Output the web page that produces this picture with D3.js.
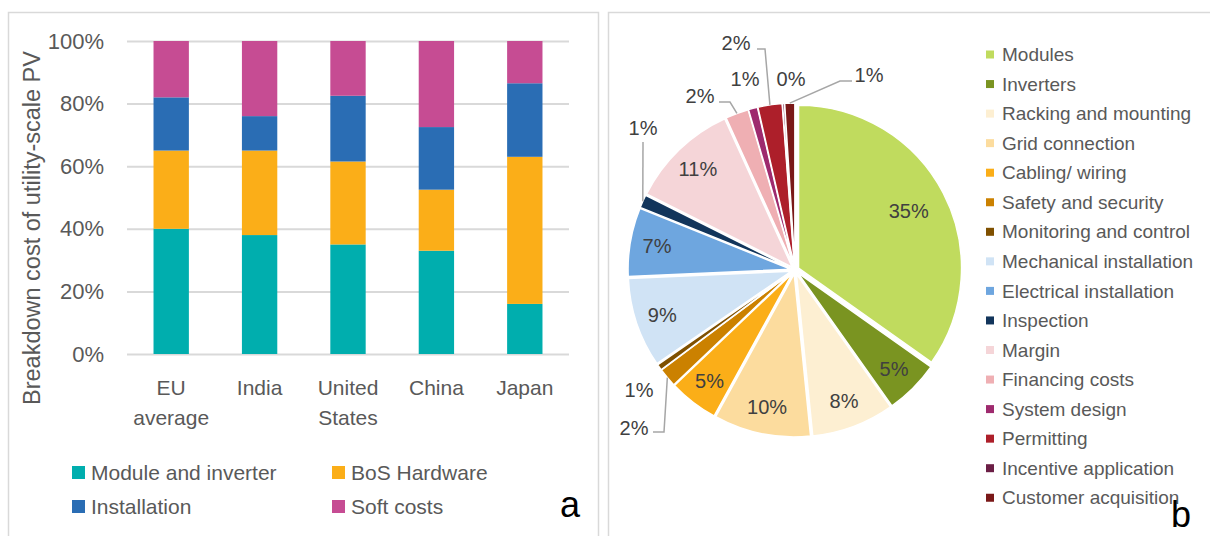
<!DOCTYPE html>
<meta charset="utf-8">
<script src="https://d3js.org/d3.v7.min.js"></script>
<style>
  body { margin: 0; background: #fff; }
  text { font-family: "Liberation Sans", Arial, sans-serif; }
</style>
<div id="my_dataviz"></div>
<script>
  // ---- panel a : stacked bars
  var countries = ["EU average", "India", "United States", "China", "Japan"];
  var moduleInverter = [40, 38, 35, 33, 16];
  var bosHardware = [25, 27, 26.5, 19.5, 47];
  var installation = [17, 11, 21, 20, 23.5];
  var softCosts = [18, 24, 17.5, 27.5, 13.5];
  var barSeries = ["Module and inverter", "BoS Hardware", "Installation", "Soft costs"];
  var barColors = ["#00AEAE", "#FBAE18", "#2A6DB4", "#C64C93"];
  var yTicks = [0, 20, 40, 60, 80, 100];

  // ---- panel b : pie
  var pieCategories = ["Modules", "Inverters", "Racking and mounting", "Grid connection", "Cabling/ wiring",
    "Safety and security", "Monitoring and control", "Mechanical installation", "Electrical installation",
    "Inspection", "Margin", "Financing costs", "System design", "Permitting", "Incentive application",
    "Customer acquisition"];
  var pieValues = [34.8, 5.4, 8.2, 9.6, 4.9, 1.9, 0.6, 8.9, 6.8, 1.3, 10.8, 2.3, 0.9, 2.4, 0.2, 1.0];
  var pieColors = ["#C0DB5E", "#7A9421", "#FDEFD2", "#FCDC9E", "#FBAE18", "#CB8100", "#7F5000", "#D0E3F5",
    "#6EA6DF", "#12355B", "#F5D5D8", "#EFAFB3", "#9E2A6E", "#AD1F2A", "#6B1E45", "#7A1818"];

  var svg = d3.select("#my_dataviz").append("svg").attr("width", 1210).attr("height", 536);

  // panel frames
  svg.append("rect").attr("x", 8.5).attr("y", 12.5).attr("width", 590).attr("height", 560)
    .attr("fill", "none").attr("stroke", "#D9D9D9").attr("stroke-width", 1.5);
  svg.append("rect").attr("x", 608.5).attr("y", 12.5).attr("width", 640).attr("height", 560)
    .attr("fill", "none").attr("stroke", "#D9D9D9").attr("stroke-width", 1.5);

  // ================= bar chart =================
  var plotLeft = 127, plotRight = 569, plotTop = 41, plotBottom = 354;
  var x = d3.scaleBand().domain(countries).range([plotLeft, plotRight]).paddingInner(0.6).paddingOuter(0.3);
  var y = d3.scaleLinear().domain([0, 100]).range([plotBottom, plotTop]);

  var yAxis = svg.append("g").attr("transform", "translate(" + plotLeft + ",0)")
    .call(d3.axisLeft(y).tickValues(yTicks).tickSize(-(plotRight - plotLeft)).tickPadding(23)
      .tickFormat(function(d) { return d + "%"; }));
  yAxis.select(".domain").remove();
  yAxis.selectAll("line").attr("stroke", "#D9D9D9").attr("stroke-width", 2);
  yAxis.selectAll("text").attr("fill", "#595959").style("font-size", "22px");

  // y title
  svg.append("text").attr("transform", "translate(40,228) rotate(-90)")
    .attr("text-anchor", "middle").attr("fill", "#595959").style("font-size", "23.5px")
    .text("Breakdown cost of utility-scale PV");

  // stacked bars
  var rows = countries.map(function(c, i) {
    return { country: c, "Module and inverter": moduleInverter[i], "BoS Hardware": bosHardware[i],
      "Installation": installation[i], "Soft costs": softCosts[i] };
  });
  var stacked = d3.stack().keys(barSeries)(rows);
  svg.append("g").selectAll("g").data(stacked).join("g")
    .attr("fill", function(d, i) { return barColors[i]; })
    .selectAll("rect").data(function(d) { return d; }).join("rect")
    .attr("x", function(d) { return x(d.data.country); })
    .attr("y", function(d) { return y(d[1]); })
    .attr("width", x.bandwidth())
    .attr("height", function(d) { return y(d[0]) - y(d[1]); });

  // x axis labels (wrapped on spaces)
  var xAxis = svg.append("g").attr("transform", "translate(0," + plotBottom + ")")
    .call(d3.axisBottom(x).tickSize(0));
  xAxis.select(".domain").remove();
  xAxis.selectAll("text").each(function(d) {
    var t = d3.select(this).attr("y", 41).attr("dy", null).attr("fill", "#595959").style("font-size", "21px").text(null);
    d.split(" ").forEach(function(w, i) {
      t.append("tspan").attr("x", 0).attr("dy", i ? 30 : 0).text(w);
    });
  });

  // legend a
  var legA = svg.append("g").selectAll("g").data(barSeries).join("g")
    .attr("transform", function(d, i) { return "translate(" + (72 + (i % 2) * 260) + "," + (466 + Math.floor(i / 2) * 34) + ")"; });
  legA.append("rect").attr("width", 13).attr("height", 13).attr("fill", function(d, i) { return barColors[i]; });
  legA.append("text").attr("x", 19).attr("y", 14).attr("fill", "#595959").style("font-size", "21px")
    .text(function(d) { return d; });

  svg.append("text").attr("x", 570).attr("y", 517).attr("text-anchor", "middle")
    .style("font-size", "36px").attr("fill", "#000").text("a");

  // ================= pie chart =================
  var R = 163, explode = 4;
  var pie = d3.pie().sort(null).value(function(d) { return d; });
  var arcs = pie(pieValues);
  var total = d3.sum(pieValues);
  var arc = d3.arc().innerRadius(0).outerRadius(R);
  function shift(d, r) {
    var m = (d.startAngle + d.endAngle) / 2;
    return [Math.sin(m) * r, -Math.cos(m) * r];
  }
  function pct(d) { return Math.round(d.value / total * 100) + "%"; }

  var pieG = svg.append("g").attr("transform", "translate(795,270)");
  pieG.selectAll("path").data(arcs).join("path")
    .attr("d", arc)
    .attr("fill", function(d, i) { return pieColors[i]; })
    .attr("stroke", "#fff").attr("stroke-width", 1.5)
    .attr("transform", function(d) { var s = shift(d, explode); return "translate(" + s[0] + "," + s[1] + ")"; });

  // inside labels for the big slices
  var labelRadius = { "Modules": 128 };
  pieG.selectAll("text.inside").data(arcs.filter(function(d) { return d.value / total >= 0.03; })).join("text")
    .attr("class", "inside")
    .attr("transform", function(d) {
      var s = shift(d, labelRadius[pieCategories[d.index]] || 140);
      return "translate(" + s[0] + "," + s[1] + ")";
    })
    .attr("text-anchor", "middle").attr("dy", "0.35em")
    .attr("fill", "#404040").style("font-size", "20px")
    .text(pct);

  // outside labels for the small slices, placed relative to pie centre
  var callouts = {
    "Safety and security": { x: -161, y: 158, leader: [[-142, 162], [-131, 162]] },
    "Monitoring and control": { x: -156, y: 120 },
    "Inspection": { x: -152, y: -142, leader: [[-152, -128]] },
    "Financing costs": { x: -95, y: -174, leader: [[-76, -168], [-65, -168]] },
    "System design": { x: -50, y: -191 },
    "Permitting": { x: -59, y: -227, leader: [[-38, -221], [-30, -221]] },
    "Incentive application": { x: -4, y: -191 },
    "Customer acquisition": { x: 74, y: -195, leader: [[57, -189], [45, -189]] }
  };
  arcs.forEach(function(d) {
    var c = callouts[pieCategories[d.index]];
    if (!c) return;
    if (c.leader) {
      var end = shift(d, R + explode);
      pieG.append("polyline")
        .attr("points", c.leader.concat([end]).map(function(p) { return p.join(","); }).join(" "))
        .attr("fill", "none").attr("stroke", "#A6A6A6").attr("stroke-width", 1.5);
    }
    pieG.append("text").attr("x", c.x).attr("y", c.y).attr("dy", "0.35em")
      .attr("text-anchor", "middle").attr("fill", "#404040").style("font-size", "20px")
      .text(pct(d));
  });

  // legend b
  var legB = svg.append("g").selectAll("g").data(pieCategories).join("g")
    .attr("transform", function(d, i) { return "translate(986," + (54.5 + i * 29.55) + ")"; });
  legB.append("rect").attr("x", 0).attr("y", -4).attr("width", 8).attr("height", 8)
    .attr("fill", function(d, i) { return pieColors[i]; });
  legB.append("text").attr("x", 16).attr("dy", "0.35em").attr("fill", "#595959").style("font-size", "19px")
    .text(function(d) { return d; });

  svg.append("text").attr("x", 1181).attr("y", 527).attr("text-anchor", "middle")
    .style("font-size", "36px").attr("fill", "#000").text("b");
</script>
